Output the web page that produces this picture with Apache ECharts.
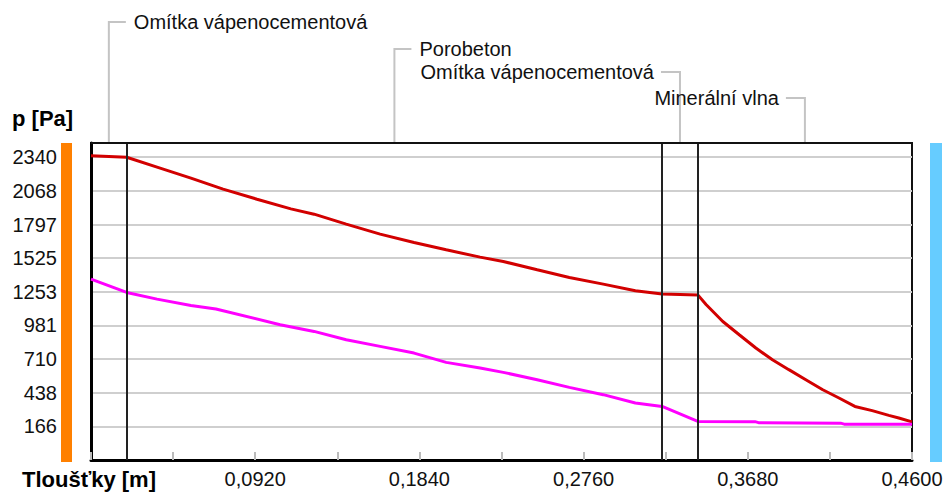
<!DOCTYPE html>
<html><head><meta charset="utf-8">
<script src="https://cdn.jsdelivr.net/npm/echarts@6/dist/echarts.min.js"></script>
<style>html,body{margin:0;padding:0;background:#fff}#c{width:947px;height:495px}</style>
</head><body><div id="c"></div>
<script>
// ---- data ----
const layerNames = ['Omítka vápenocementová', 'Porobeton', 'Omítka vápenocementová', 'Minerální vlna'];
const layerBounds = [0, 0.02, 0.32, 0.34, 0.46];
const xTickLabels = [0.092, 0.184, 0.276, 0.368, 0.46];
const yTickLabels = [166, 438, 710, 981, 1253, 1525, 1797, 2068, 2340];
const yMin = -105.75, yMax = 2455, yStep = 271.75;

const pSatX = [0, 0.02, 0.037, 0.056, 0.074, 0.093, 0.112, 0.125, 0.143, 0.162, 0.181, 0.199, 0.218, 0.231, 0.25, 0.268, 0.287, 0.305, 0.32, 0.34, 0.3446, 0.354, 0.3632, 0.3725, 0.3818, 0.391, 0.4005, 0.41, 0.4191, 0.428, 0.4377, 0.447, 0.4526, 0.46];
const pSat  = [2353, 2340, 2260, 2171, 2082, 2001, 1923, 1880, 1800, 1719, 1651, 1592, 1533, 1498, 1431, 1369, 1315, 1261, 1235, 1228, 1150, 1013, 906, 799, 704, 624, 543, 462, 395, 327, 293, 255, 234, 202];

const pX = [0, 0.02, 0.037, 0.056, 0.07, 0.106, 0.125, 0.143, 0.162, 0.181, 0.199, 0.218, 0.231, 0.25, 0.268, 0.287, 0.305, 0.32, 0.34, 0.372, 0.374, 0.42, 0.422, 0.46];
const pVal = [1356, 1248, 1194, 1143, 1114, 987, 933, 866, 812, 758, 683, 637, 602, 543, 481, 422, 355, 327, 206, 204, 196, 192, 184, 184];

// ---- layout / style ----
const FONT = "'Liberation Sans', Arial, sans-serif";
const leaderLevels = [22, 49, 72, 98];
const leaderSides = ['right', 'right', 'left', 'left'];

(function () {
const chart = echarts.init(document.getElementById('c'), null, {renderer: 'svg'});
const zip = (xs, ys) => xs.map((x, i) => [x, ys[i]]);

chart.setOption({
  animation: false,
  backgroundColor: '#fff',
  grid: {left: 91, right: 35, top: 143, bottom: 35, show: true, borderColor: '#111', borderWidth: 2},
  xAxis: {
    type: 'value', min: 0, max: 0.46, interval: 0.046,
    axisLine: {show: true, onZero: false, lineStyle: {color: '#000', width: 3}},
    axisTick: {show: true, inside: true, length: 8, lineStyle: {color: '#bbb', width: 2}},
    splitLine: {show: false},
    axisLabel: {
      margin: 9, color: '#111', fontFamily: FONT, fontSize: 20,
      showMinLabel: true, showMaxLabel: true,
      formatter: v => xTickLabels.some(t => Math.abs(t - v) < 1e-6) ? v.toFixed(4).replace('.', ',') : ''
    }
  },
  yAxis: {
    type: 'value', min: yMin, max: yMax, interval: yStep,
    axisLine: {show: true, lineStyle: {color: '#000', width: 3}},
    axisTick: {show: false},
    splitLine: {show: true, showMaxLine: false, lineStyle: {color: '#cfcfcf', width: 2}},
    axisLabel: {
      margin: 34, color: '#111', fontFamily: FONT, fontSize: 20,
      formatter: v => { const t = yTickLabels.find(t => Math.abs(t - v) < 1); return t === undefined ? '' : String(t); }
    }
  },
  series: [
    {
      type: 'line', name: 'pSat', data: zip(pSatX, pSat), symbol: 'none',
      lineStyle: {color: '#d20000', width: 3}, z: 3,
      markLine: {
        silent: true, symbol: ['none', 'none'], label: {show: false},
        lineStyle: {color: '#222', width: 2, type: 'solid'},
        data: layerBounds.slice(1, -1).map(b => ({xAxis: b}))
      }
    },
    {
      type: 'line', name: 'p', data: zip(pX, pVal), symbol: 'none',
      lineStyle: {color: '#ff00ff', width: 3}, z: 4
    }
  ]
});

// annotations computed from the axes
const toPx = (x, y) => chart.convertToPixel({xAxisIndex: 0, yAxisIndex: 0}, [x, y]);
const gTop = toPx(0, yMax)[1];
const gBottom = toPx(0, yMin)[1];
const gLeft = toPx(0, yMin)[0];
const gRight = toPx(0.46, yMin)[0];

const graphics = [];
layerNames.forEach((name, i) => {
  const mid = (layerBounds[i] + layerBounds[i + 1]) / 2;
  const px = toPx(mid, yMax)[0];
  const ly = leaderLevels[i];
  const dir = leaderSides[i] === 'right' ? 1 : -1;
  const hl = dir > 0 ? 17 : 19;
  const tg = dir > 0 ? 25 : 26;
  graphics.push({type: 'polyline', silent: true,
    shape: {points: [[px, gTop - 1], [px, ly], [px + dir * hl, ly]]},
    style: {stroke: '#c4c4c4', lineWidth: 2, fill: null}});
  graphics.push({type: 'text', silent: true, x: px + dir * tg, y: ly,
    style: {text: name, font: '20px ' + FONT, fill: '#111',
      align: dir > 0 ? 'left' : 'right', verticalAlign: 'middle',
      textAlign: dir > 0 ? 'left' : 'right', textVerticalAlign: 'middle'}});
});
graphics.push({type: 'line', silent: true, z: 100,
  shape: {x1: gLeft, y1: gTop, x2: gRight, y2: gTop}, style: {stroke: '#111', lineWidth: 2}});
graphics.push({type: 'text', silent: true, x: 12, y: 118,
  style: {text: 'p [Pa]', font: 'bold 22px ' + FONT, fill: '#000', align: 'left', verticalAlign: 'middle', textVerticalAlign: 'middle'}});
graphics.push({type: 'text', silent: true, x: 22, y: 479,
  style: {text: 'Tloušťky [m]', font: 'bold 22px ' + FONT, fill: '#000', align: 'left', verticalAlign: 'middle', textVerticalAlign: 'middle'}});
graphics.push({type: 'rect', silent: true, shape: {x: gLeft - 30, y: gTop, width: 11, height: gBottom - gTop + 2}, style: {fill: '#ff8000'}});
graphics.push({type: 'rect', silent: true, shape: {x: gRight + 18, y: gTop, width: 12, height: gBottom - gTop + 2}, style: {fill: '#66ccff'}});
chart.setOption({graphic: graphics});
})();
</script>
</body></html>
